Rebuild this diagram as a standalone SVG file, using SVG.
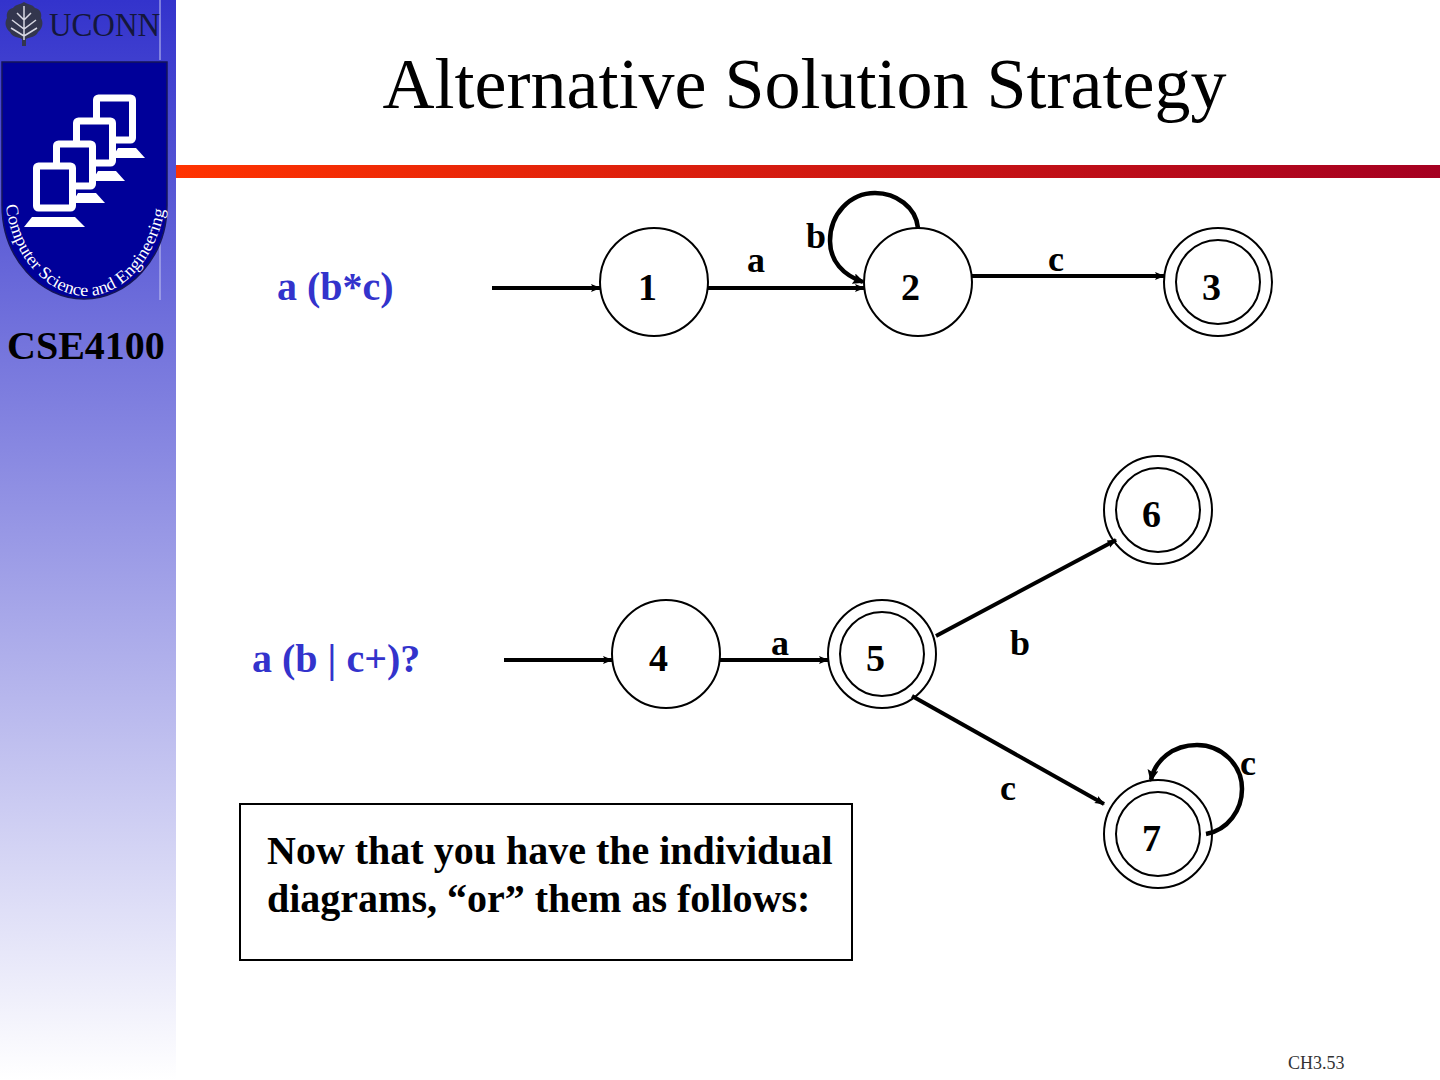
<svg xmlns="http://www.w3.org/2000/svg" width="1440" height="1080" viewBox="0 0 1440 1080">
<style>
text{font-family:"Liberation Serif","Times New Roman",serif}
.n{font-size:38px;font-weight:700;fill:#000}
.l{font-size:36px;font-weight:700;fill:#000}
.t{font-size:40px;font-weight:700;fill:#000}
.q{font-size:40px;font-weight:700;fill:#3333cc}
.s{fill:#fff;stroke:#000;stroke-width:2}
.o{fill:none;stroke:#000;stroke-width:2}
.h{fill:none;stroke:#000;stroke-width:4;marker-end:url(#a)}
.c{fill:none;stroke:#000;stroke-width:4.500;marker-end:url(#b)}
</style>
<defs>
<linearGradient id="side" x1="0" y1="0" x2="0" y2="1"><stop offset="0" stop-color="#3333cc"/><stop offset="1" stop-color="#ffffff"/></linearGradient>
<linearGradient id="bar" x1="0" y1="0" x2="1" y2="0"><stop offset="0" stop-color="#ff3300"/><stop offset="1" stop-color="#a50021"/></linearGradient>
<marker id="a" markerUnits="userSpaceOnUse" markerWidth="12" markerHeight="10" refX="9" refY="4" orient="auto"><path d="M0 0L10 4L0 8L2 4Z" fill="#000"/></marker>
<marker id="b" markerUnits="userSpaceOnUse" markerWidth="14" markerHeight="12" refX="10" refY="5.500" orient="auto"><path d="M0 0L12 5.500L0 11L2 5.500Z" fill="#000"/></marker>
<path id="arc" d="M6 205C12 262 52 296 86 296C124 296 162 256 167 192"/>
</defs>
<rect width="1440" height="1080" fill="#fff"/>
<rect id="sidebar" width="176" height="1080" fill="url(#side)"/>
<rect id="rule" x="176" y="165" width="1264" height="13" fill="url(#bar)"/>
<g id="logo">
<path d="M160 0V60M160 215V300" stroke="#c8c8f0" stroke-width="1" fill="none"/>
<path d="M24 2C19 5 16 4 13 8C8 9 6 13 7 18C4 23 6 29 10 32C12 37 18 37 22 39L22 46H26L26 39C30 37 36 37 38 32C42 29 44 23 41 18C42 13 40 9 35 8C32 4 29 5 24 2Z" fill="#33364e"/>
<path d="M24 6V40M17 13L24 20L31 13M12 20L24 29L36 20M11 28L24 36L37 28" stroke="#d8d8e4" stroke-width="1.500" fill="none"/>
<text x="49" y="36" font-size="33" fill="#14173c" textLength="111" lengthAdjust="spacingAndGlyphs">UCONN</text>
<path d="M2 62H167V205C167 258 128 299 84 299C40 299 2 258 2 205Z" fill="#000099" stroke="#14145a" stroke-width="1.500"/>
<g fill="#000099" stroke="#fff" stroke-width="7">
<rect x="96.500" y="98" width="36" height="42" rx="2"/><rect x="76.500" y="121" width="36" height="42" rx="2"/>
<rect x="56.500" y="144" width="36" height="42" rx="2"/><rect x="36.500" y="166" width="36" height="42" rx="2"/>
</g>
<g fill="#fff"><path d="M118 148H136L145 158H112Z"/><path d="M98 171H116L125 181H92Z"/><path d="M78 193H96L105 203H72Z"/><path d="M32 217H75L85 227H24Z"/></g>
<text font-size="17.500" fill="#fff"><textPath href="#arc" textLength="258" lengthAdjust="spacingAndGlyphs">Computer Science and Engineering</textPath></text>
</g>
<text id="course" x="7" y="359" font-size="40" font-weight="700" fill="#000">CSE4100</text>
<text id="title" x="804.500" y="108" font-size="72" text-anchor="middle" fill="#000">Alternative Solution Strategy</text>
<g id="n1"><circle class="s" cx="654" cy="282" r="54"/><text class="n" x="638" y="300">1</text></g>
<g id="n2"><circle class="s" cx="918" cy="282" r="54"/><text class="n" x="901" y="300">2</text></g>
<g id="n3"><circle class="s" cx="1218" cy="282" r="54"/><circle class="o" cx="1218" cy="282" r="42"/><text class="n" x="1202" y="300">3</text></g>
<g id="n4"><circle class="s" cx="666" cy="654" r="54"/><text class="n" x="649" y="671">4</text></g>
<g id="n5"><circle class="s" cx="882" cy="654" r="54"/><circle class="o" cx="882" cy="654" r="42"/><text class="n" x="866" y="671">5</text></g>
<g id="n6"><circle class="s" cx="1158" cy="510" r="54"/><circle class="o" cx="1158" cy="510" r="42"/><text class="n" x="1142" y="527">6</text></g>
<g id="n7"><circle class="s" cx="1158" cy="834" r="54"/><circle class="o" cx="1158" cy="834" r="42"/><text class="n" x="1142" y="851">7</text></g>
<g id="connectors">
<path class="h" d="M492 288H600"/>
<path class="h" d="M708 288H864"/>
<path class="c" d="M918 228C916 207 896 193 875 193C850 193 830 214 830 241C830 261 843 275 863 282"/>
<path class="h" d="M972 276H1164"/>
<path class="h" d="M504 660H612"/>
<path class="h" d="M720 660H828"/>
<path class="h" d="M936 636L1116 540"/>
<path class="h" d="M912 696L1104 804"/>
<path class="c" d="M1206 834C1228 830 1242 810 1242 789C1242 765 1222 745 1197 745C1173 745 1155 760 1151 780"/>
</g>
<g id="edge-labels">
<text class="l" x="806" y="248">b</text><text class="l" x="747" y="272">a</text><text class="l" x="1048" y="271">c</text>
<text class="l" x="771" y="655">a</text><text class="l" x="1010" y="655">b</text><text class="l" x="1000" y="800">c</text><text class="l" x="1240" y="775">c</text>
</g>
<text id="expr1" class="q" x="277" y="300">a (b*c)</text>
<text id="expr2" class="q" x="252" y="672">a (b | c+)?</text>
<g id="note">
<rect x="240" y="804" width="612" height="156" fill="#fff" stroke="#000" stroke-width="2"/>
<text class="t" x="267" y="864">Now that you have the individual</text>
<text class="t" x="267" y="912">diagrams, “or” them as follows:</text>
</g>
<text id="page" x="1288" y="1069" font-size="18" fill="#333">CH3.53</text>
</svg>
